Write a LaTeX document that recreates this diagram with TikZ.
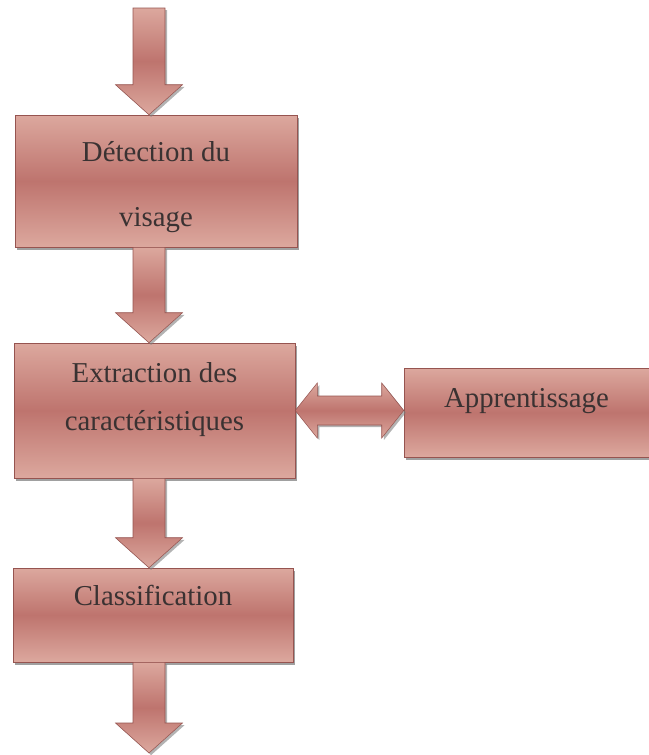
\documentclass[tikz,border=0pt]{standalone}
\usepackage{fontspec}
\setmainfont{Liberation Serif}
\usetikzlibrary{calc,shadows}
\definecolor{boxlight}{RGB}{220,168,158}
\definecolor{boxdark}{RGB}{190,116,110}
\definecolor{boxline}{RGB}{150,84,80}
\definecolor{boxtext}{RGB}{58,50,50}
\newcommand\pxu{0.02cm}
% block arrow pointing down, from #1 to the tip #2
\newcommand\blockdown[2]{%
  \path[flowarrow] ($(#1)+(-16,0)$) -- ($(#2)+(-16,-30)$) -- ($(#2)+(-33.5,-30)$) -- (#2)
    -- ($(#2)+(33.5,-30)$) -- ($(#2)+(16,-30)$) -- ($(#1)+(16,0)$) -- cycle;}
% block arrow with two heads, from the tip #1 to the tip #2
\newcommand\blockboth[2]{%
  \path[flowarrow] (#1) -- ($(#1)+(22,-27.5)$) -- ($(#1)+(22,-14.5)$) -- ($(#2)+(-22,-14.5)$)
    -- ($(#2)+(-22,-27.5)$) -- (#2) -- ($(#2)+(-22,27.5)$) -- ($(#2)+(-22,14.5)$)
    -- ($(#1)+(22,14.5)$) -- ($(#1)+(22,27.5)$) -- cycle;}
\begin{document}
\begin{tikzpicture}[x=\pxu,y=-\pxu,
  flowbox/.style={draw=boxline,line width=.3pt,top color=boxlight,bottom color=boxlight,
    middle color=boxdark,drop shadow={shadow xshift=1.2pt,shadow yshift=-1.6pt,opacity=.75},
    font=\fontsize{16.4pt}{19.7pt}\selectfont,text=boxtext,align=center},
  flowarrow/.style={draw=boxline,line width=.3pt,top color=boxlight,bottom color=boxlight,
    middle color=boxdark,drop shadow={shadow xshift=1.2pt,shadow yshift=-1.2pt,opacity=.6}}]
  \useasboundingbox (0,0) rectangle (649,755);
  \node[flowbox,minimum width=282*\pxu,minimum height=132*\pxu,text height=1.966cm,text depth=.126cm]
    (detect) at (156,181) {Détection du\\[17.3pt]visage};
  \node[flowbox,minimum width=281*\pxu,minimum height=135*\pxu,text height=1.354cm,text depth=.574cm]
    (extract) at (154.5,410.5) {Extraction des\\[7.6pt]caractéristiques};
  \node[flowbox,minimum width=245*\pxu,minimum height=89*\pxu,text height=.394cm,text depth=.614cm]
    (learn) at (526.5,412.5) {Apprentissage};
  \node[flowbox,minimum width=280*\pxu,minimum height=94*\pxu,text height=.394cm,text depth=.794cm]
    (classify) at (153,615) {Classification};
  \coordinate (in) at (149,8);
  \coordinate (out) at (149,753);
  \blockdown{in}{detect.north -| in}
  \blockdown{detect.south -| in}{extract.north -| in}
  \blockdown{extract.south -| in}{classify.north -| in}
  \blockdown{classify.south -| in}{out}
  \blockboth{extract.east}{learn.west |- extract.east}
\end{tikzpicture}
\end{document}
